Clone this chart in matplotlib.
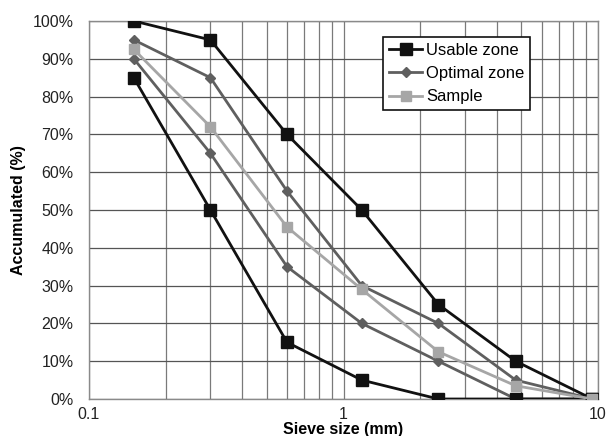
import matplotlib
matplotlib.use("Agg")
import matplotlib.pyplot as plt
from matplotlib.ticker import FixedLocator, FuncFormatter, NullFormatter, LogLocator

sieve = [0.15, 0.3, 0.6, 1.18, 2.36, 4.75, 9.5]
usable_upper = [100, 95, 70, 50, 25, 10, 0]
usable_lower = [85, 50, 15, 5, 0, 0, 0]
optimal_upper = [95, 85, 55, 30, 20, 5, 0]
optimal_lower = [90, 65, 35, 20, 10, 0, 0]
sample = [92.5, 72, 45.5, 29, 12.5, 3.5, 0]

plt.rcParams['font.family'] = ['Liberation Sans', 'DejaVu Sans']

fig = plt.figure(figsize=(6.08, 4.36), dpi=100)
ax = fig.add_axes([89/608, 1 - 399/436, (598-89)/608, (399-21)/436])

c_us, c_op, c_sa = '#111111', '#5f5f5f', '#a6a6a6'
ax.plot(sieve, usable_upper, color=c_us, lw=2, marker='s', ms=9, zorder=5, label='Usable zone')
ax.plot(sieve, usable_lower, color=c_us, lw=2, marker='s', ms=9, zorder=5)
ax.plot(sieve, optimal_upper, color=c_op, lw=2, marker='D', ms=5, zorder=4, label='Optimal zone')
ax.plot(sieve, optimal_lower, color=c_op, lw=2, marker='D', ms=5, zorder=4)
ax.plot(sieve, sample, color=c_sa, lw=2, marker='s', ms=7, zorder=6, label='Sample')

ax.set_xscale('log')
ax.set_xlim(0.1, 10)
ax.set_ylim(0, 100)
ax.xaxis.set_major_locator(FixedLocator([0.1, 1, 10]))
ax.xaxis.set_major_formatter(FuncFormatter(lambda v, p: f'{v:g}'))
ax.xaxis.set_minor_locator(LogLocator(base=10, subs=range(2, 10)))
ax.xaxis.set_minor_formatter(NullFormatter())
ax.set_yticks(range(0, 101, 10))
ax.yaxis.set_major_formatter(FuncFormatter(lambda v, p: f'{v:.0f}%'))

ax.grid(True, which='both', axis='x', color='#7a7a7a', lw=0.9)
ax.grid(True, which='major', axis='y', color='#555555', lw=0.9)
ax.set_axisbelow(True)
for s in ax.spines.values():
    s.set_color('#8a8a8a')
    s.set_linewidth(1)
ax.tick_params(which='both', length=0, labelsize=11.5, colors='#222222')
ax.tick_params(axis='y', pad=11)
ax.tick_params(axis='x', pad=6)

ax.set_xlabel('Sieve size (mm)', fontsize=11.5, fontweight='bold', va='center')
ax.xaxis.set_label_coords(0.5, -(429.5 - 399) / 378)
ax.set_ylabel('Accumulated (%)', fontsize=11.5, fontweight='bold', va='center')
ax.yaxis.set_label_coords(-(89 - 19) / 509, 0.5)

leg = ax.legend(loc='upper left', bbox_to_anchor=((383-89)/509, (399-37)/378), fontsize=12,
                frameon=True, fancybox=False, framealpha=1, edgecolor='#111111',
                borderaxespad=0, handlelength=2.0, handletextpad=0.25, borderpad=0.35,
                labelspacing=0.5)
leg.get_frame().set_linewidth(1.2)

fig.savefig('out.png', dpi=100)
